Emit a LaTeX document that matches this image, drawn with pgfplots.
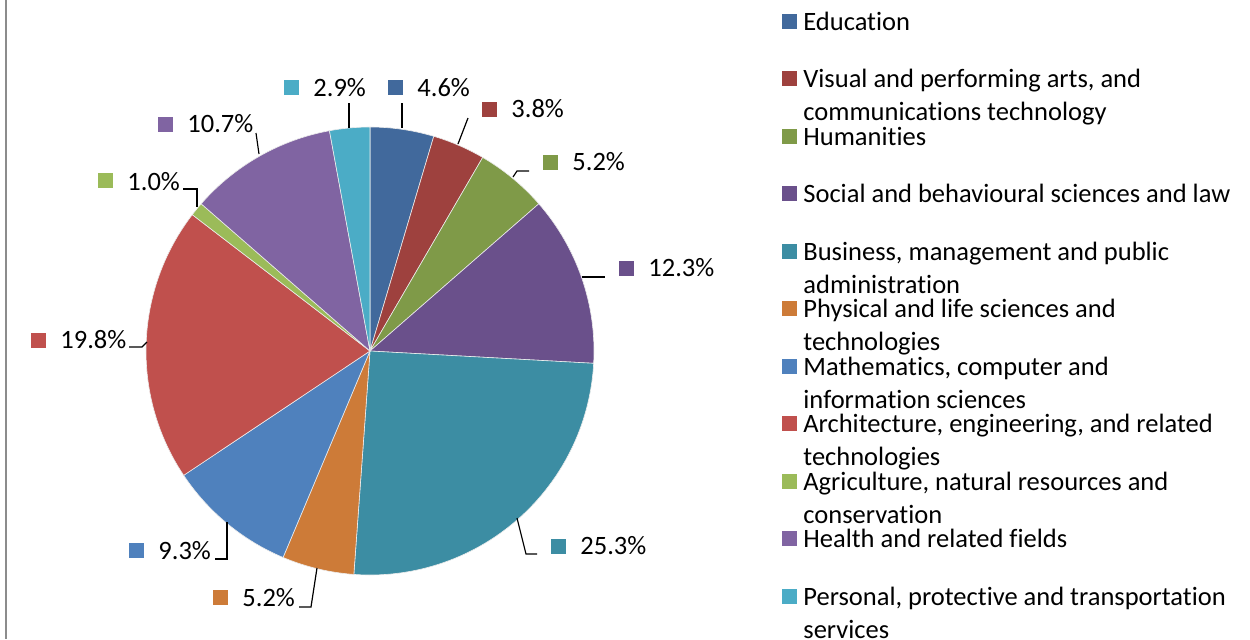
\documentclass[border=0pt]{standalone}
\usepackage{pgfplots}
\pgfplotsset{compat=1.18}
\usepackage{pgfplotstable}
\usepackage{fontspec}
\setmainfont{Carlito}[Ligatures=NoCommon]
\newcommand\ti{t\kern0pt i}% keep Carlito from joining t and i

\definecolor{cEdu}{HTML}{41699C}
\definecolor{cVis}{HTML}{9E413E}
\definecolor{cHum}{HTML}{7F9A48}
\definecolor{cSoc}{HTML}{6A508B}
\definecolor{cBus}{HTML}{3C8DA3}
\definecolor{cPhy}{HTML}{CD7B38}
\definecolor{cMat}{HTML}{4F81BD}
\definecolor{cArc}{HTML}{C0504D}
\definecolor{cAgr}{HTML}{9BBB59}
\definecolor{cHea}{HTML}{8064A2}
\definecolor{cPer}{HTML}{4BACC6}

% share of graduates by field, clockwise from 12 o'clock
\pgfplotstableread{
share col
4.6  cEdu
3.8  cVis
5.2  cHum
12.3 cSoc
25.3 cBus
5.2  cPhy
9.3  cMat
19.8 cArc
1.0  cAgr
10.7 cHea
2.9  cPer
}\piedata

% data label: square x, square centre y, baseline y, colour, text
\newcommand\plab[5]{%
  \fill[#4] (#1,#2-7.5) rectangle ++(15,15);
  \node[anchor=base west,inner sep=0pt] at (#1+29,#3) {#5};}
% legend entry: row, colour, first line, second line
\newcommand\leg[4]{%
  \fill[#2] (782,{21+57.5*#1-7.5}) rectangle ++(15,15);
  \node[anchor=base west,inner sep=0pt] at (803,{30+57.5*#1}) {#3};
  \node[anchor=base west,inner sep=0pt] at (803,{63+57.5*#1}) {#4};}

\begin{document}
\begin{tikzpicture}
\path[use as bounding box] (0,0) rectangle (625pt,-319.5pt);

\def\ang{90}
\gdef\piecmds{}
\pgfplotsforeachungrouped \i in {0,...,10}{%
  \pgfplotstablegetelem{\i}{share}\of\piedata
  \let\sliceval\pgfplotsretval
  \pgfplotstablegetelem{\i}{col}\of\piedata
  \let\slicecol\pgfplotsretval
  \pgfmathsetmacro\endang{\ang-360*\sliceval/100.1}%
  \xdef\piecmds{\unexpanded\expandafter{\piecmds}%
    \noexpand\fill[\slicecol,draw=white!85!gray,line width=0.3pt]
      (axis cs:0,0) -- (axis cs:{cos(\ang)},{sin(\ang)})
      arc[start angle=\ang,end angle=\endang,radius=112pt] -- cycle;}%
  \global\let\ang\endang
}

\begin{axis}[at={(185pt,-175.5pt)}, anchor=origin,
  width=224pt, height=224pt, scale only axis,
  xmin=-1, xmax=1, ymin=-1, ymax=1,
  hide axis, clip=false]
\piecmds
\end{axis}

\begin{scope}[x=0.5pt,y=-0.5pt,font=\fontsize{13.25pt}{16pt}\selectfont]
\draw[gray!90,line width=1pt] (5.5,0) -- (5.5,639);

% leader lines
\begin{scope}[line width=0.6pt]
\draw (349,103) -- (349,128);
\draw (402,103) -- (402,128);
\draw (468,118) -- (458,144);
\draw (513,177) -- (517,171) -- (529,171);
\draw (582,277) -- (605,277);
\draw (517,518) -- (526,554) -- (537,554);
\draw (317,568) -- (311,607) -- (299,607);
\draw (227,522) -- (227,559) -- (215,559);
\draw (129,347) -- (142,347) -- (147,342);
\draw (183,189) -- (197,189) -- (197,207);
\draw (256,133) -- (259,154);
\end{scope}

\plab{284}{87}{96}{cPer}{2.9\%}
\plab{388}{87}{96}{cEdu}{4.6\%}
\plab{482}{109}{117}{cVis}{3.8\%}
\plab{543}{162}{170}{cHum}{5.2\%}
\plab{619}{268}{276}{cSoc}{12.3\%}
\plab{551}{546}{554}{cBus}{25.3\%}
\plab{213}{597}{606}{cPhy}{5.2\%}
\plab{129}{550}{559}{cMat}{9.3\%}
\plab{31}{340}{348}{cArc}{19.8\%}
\plab{98}{180}{190}{cAgr}{1.0\%}
\plab{158}{124}{132}{cHea}{10.7\%}

\leg{0}{cEdu}{Educa\ti on}{}
\leg{1}{cVis}{Visual and performing arts, and}{communica\ti ons technology}
\leg{2}{cHum}{Humani\ti es}{}
\leg{3}{cSoc}{Social and behavioural sciences and law}{}
\leg{4}{cBus}{Business, management and public}{administra\ti on}
\leg{5}{cPhy}{Physical and life sciences and}{technologies}
\leg{6}{cMat}{Mathema\ti cs, computer and}{informa\ti on sciences}
\leg{7}{cArc}{Architecture, engineering, and related}{technologies}
\leg{8}{cAgr}{Agriculture, natural resources and}{conserva\ti on}
\leg{9}{cHea}{Health and related fields}{}
\leg{10}{cPer}{Personal, protec\ti ve and transporta\ti on}{services}
\end{scope}
\end{tikzpicture}
\end{document}
